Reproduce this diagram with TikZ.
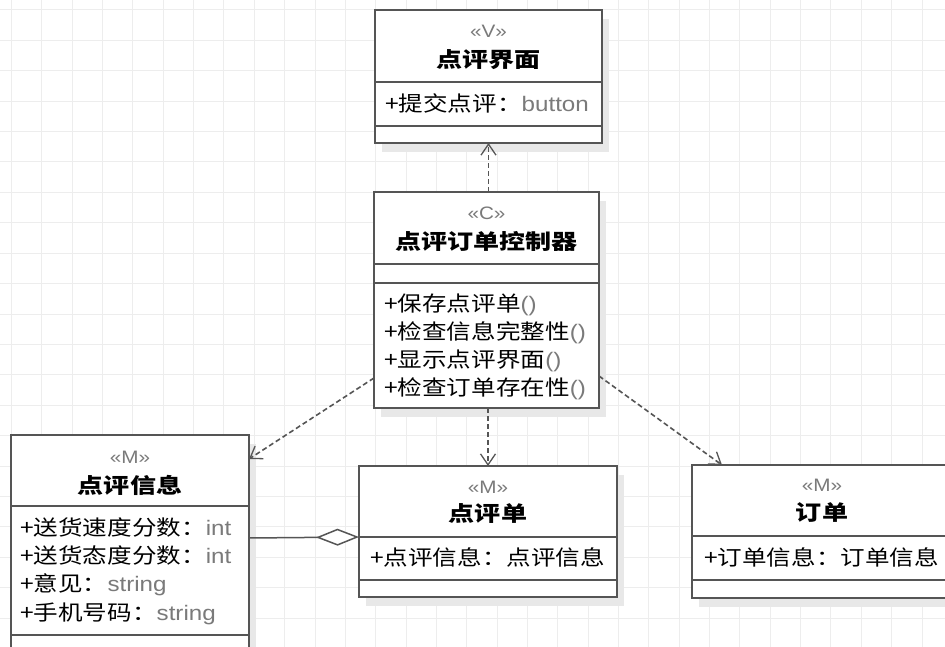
\documentclass[tikz,border=0pt]{standalone}
\usepackage{fontspec}
\usetikzlibrary{arrows.meta,calc}
\newfontfamily\cjk[FakeStretch=1.17]{Noto Sans CJK SC}
\newfontfamily\cjkb[FakeStretch=1.24]{Noto Sans CJK SC}
\newfontfamily\lat[FakeStretch=1.15]{Liberation Sans}
\definecolor{edge}{HTML}{555555}
\definecolor{tgray}{HTML}{7A7A7A}
\definecolor{gridc}{HTML}{EDEDED}
\definecolor{shad}{HTML}{E8E8E8}
\newcommand\ty[1]{{\lat\color{tgray}#1}}
\tikzset{
  cls/.style={draw=edge, line width=2pt, fill=white, outer sep=0pt, inner sep=0pt, rectangle},
  ster/.style={font=\lat\fontsize{18}{18}\selectfont, text=tgray, inner sep=0pt, anchor=base},
  cname/.style={font=\cjkb\bfseries\fontsize{21}{21}\selectfont, inner sep=0pt, anchor=base},
  attr/.style={font=\cjk\fontsize{21}{21}\selectfont, anchor=base west, inner sep=0pt},
  dep/.style={draw=edge, line width=1.6pt, dash pattern=on 5pt off 3pt,
    -{Straight Barb[length=11pt,width=15pt,line width=1.3pt]}},
  agg/.style={draw=edge, line width=1.5pt, -{Diamond[open, length=43pt, width=17pt, fill=white, line width=1.5pt]}},
  divline/.style={draw=edge, line width=2pt},
  gridline/.style={draw=gridc, line width=1pt},
}
\newcommand\umlbox[5]{%
  \fill[shad] ({#2+7},{#3+9}) rectangle ({#4+7},{#5+9});
  \node[cls, minimum width={#4-#2}, minimum height={#5-#3}] (#1) at ({(#2+#4)/2},{(#3+#5)/2}) {};
}
\begin{document}
\begin{tikzpicture}[x=1pt,y=-1pt]
\useasboundingbox (0,0) rectangle (945,647);
\clip (0,0) rectangle (945,647);
\fill[white] (0,0) rectangle (945,647);
% grid
\foreach \i in {0,...,31} \draw[gridline] ({11.5+30.35*\i},0) -- ++(0,647);
\foreach \j in {0,...,21} \draw[gridline] (0,{10+30.4*\j}) -- ++(945,0);

% boxes
\umlbox{V}{375}{10}{602}{143}
\draw[divline] ($(V.north west)+(0,72)$) -- ($(V.north east)+(0,72)$);
\draw[divline] ($(V.north west)+(0,116)$) -- ($(V.north east)+(0,116)$);

\umlbox{C}{374}{192}{599}{408}
\draw[divline] ($(C.north west)+(0,72)$) -- ($(C.north east)+(0,72)$);
\draw[divline] ($(C.north west)+(0,91)$) -- ($(C.north east)+(0,91)$);

\umlbox{Info}{11}{435}{249}{700}
\draw[divline] ($(Info.north west)+(0,71)$) -- ($(Info.north east)+(0,71)$);
\draw[divline] ($(Info.north west)+(0,200)$) -- ($(Info.north east)+(0,200)$);

\umlbox{Review}{359}{466}{617}{597}
\draw[divline] ($(Review.north west)+(0,71)$) -- ($(Review.north east)+(0,71)$);
\draw[divline] ($(Review.north west)+(0,114)$) -- ($(Review.north east)+(0,114)$);

\umlbox{Order}{692}{465}{952}{598}
\draw[divline] ($(Order.north west)+(0,71)$) -- ($(Order.north east)+(0,71)$);
\draw[divline] ($(Order.north west)+(0,115)$) -- ($(Order.north east)+(0,115)$);

% texts: V
\node[ster] (Vs) at (488.5,38) {«V»};
\node[cname] (Vn) at (488.5,68) {点评界面};
\node[attr] (Va) at (385,112) {+提交点评：\ty{button}};
% C
\node[ster] (Cs) at (486.5,219) {«C»};
\node[cname] (Cn) at (486.5,250) {点评订单控制器};
\node[attr] (Cm1) at (384,311) {+保存点评单\ty{()}};
\node[attr] (Cm2) at (384,339) {+检查信息完整性\ty{()}};
\node[attr] (Cm3) at (384,367) {+显示点评界面\ty{()}};
\node[attr] (Cm4) at (384,395) {+检查订单存在性\ty{()}};
% Info
\node[ster] (Is) at (130,463) {«M»};
\node[cname] (In) at (130,493) {点评信息};
\node[attr] (Ia1) at (20,535) {+送货速度分数：\ty{int}};
\node[attr] (Ia2) at (20,563) {+送货态度分数：\ty{int}};
\node[attr] (Ia3) at (20,591) {+意见：\ty{string}};
\node[attr] (Ia4) at (20,620) {+手机号码：\ty{string}};
% Review
\node[ster] (Rs) at (488,493) {«M»};
\node[cname] (Rn) at (488,521) {点评单};
\node[attr] (Ra) at (370,565) {+点评信息：点评信息};
% Order
\node[ster] (Os) at (822,491) {«M»};
\node[cname] (On) at (822,520) {订单};
\node[attr] (Oa) at (704,565) {+订单信息：订单信息};

% connectors
\draw[dep] (C.north -| V.south) -- (V.south);
\draw[dep] (C.south -| Review.north) -- (Review.north);
\draw[dep] ($(C.south west)+(0,-30)$) -- ($(Info.north east)+(0,24)$);
\draw[dep] ($(C.south east)+(0,-32)$) -- ($(Order.north west)+(30,0)$);
\draw[agg] ($(Info.north east)+(0,103)$) -- ($(Review.north west)+(0,71)$);
\end{tikzpicture}
\end{document}
